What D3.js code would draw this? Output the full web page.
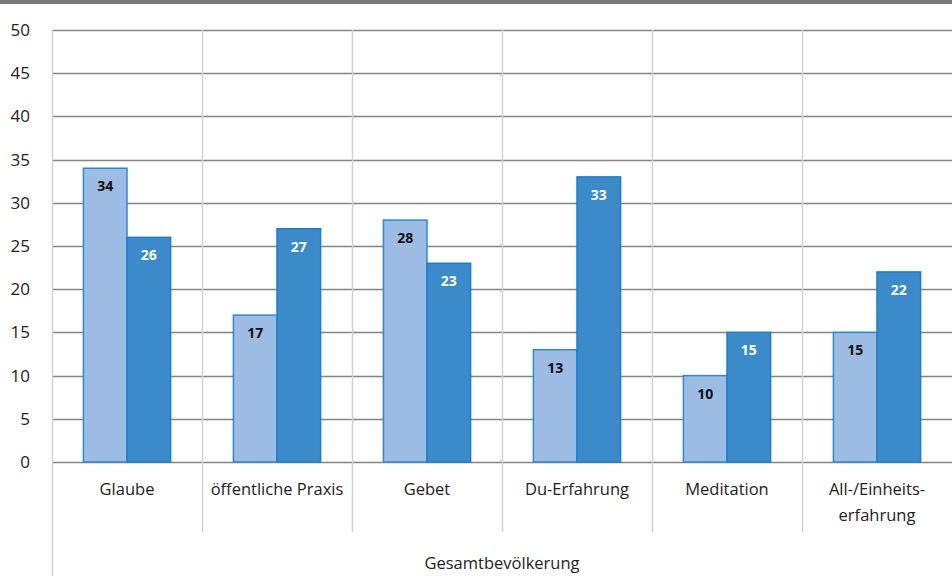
<!DOCTYPE html>
<html>
<head>
<meta charset="utf-8">
<script src="https://cdn.jsdelivr.net/npm/d3@7"></script>
<style>
  html, body { margin: 0; padding: 0; background: #fff; }
  svg { display: block; font-family: "Open Sans", "DejaVu Sans", sans-serif; }
</style>
</head>
<body>
<svg id="chart" width="952" height="582"></svg>
<script>
// Religious experience dimensions, two comparison groups
const categories = ["Glaube", "öffentliche Praxis", "Gebet", "Du-Erfahrung", "Meditation", "All-/Einheits-\nerfahrung"];
const seriesA = [34, 17, 28, 13, 10, 15];
const seriesB = [26, 27, 23, 33, 15, 22];
const yTicks = [0, 5, 10, 15, 20, 25, 30, 35, 40, 45, 50];
const groupLabel = "Gesamtbevölkerung";

const svg = d3.select("#chart");
const plotLeft = 52, plotRight = 952, plotTop = 30, plotBottom = 462;

const x = d3.scaleBand().domain(categories).range([plotLeft, plotRight]).paddingInner(0).paddingOuter(0);
const x1 = d3.scaleBand().domain(["a", "b"]).range([0, x.bandwidth()]).paddingInner(0).paddingOuter(0.72);
const y = d3.scaleLinear().domain([0, 50]).range([plotBottom, plotTop]);

// Top rule
svg.append("rect").attr("x", 0).attr("y", 0).attr("width", 952).attr("height", 4).attr("fill", "#7a7a7a");

// Horizontal gridlines
svg.append("g").selectAll("line").data(yTicks).join("line")
  .attr("x1", plotLeft).attr("x2", plotRight)
  .attr("y1", d => Math.round(y(d)) + 0.5).attr("y2", d => Math.round(y(d)) + 0.5)
  .attr("stroke", "#858585").attr("stroke-width", 1.3);

// Vertical category separators
const seps = categories.slice(1).map(c => x(c));
svg.append("g").selectAll("line").data(seps).join("line")
  .attr("x1", d => Math.round(d) + 0.5).attr("x2", d => Math.round(d) + 0.5)
  .attr("y1", plotTop).attr("y2", 532)
  .attr("stroke", "#d2d2d2").attr("stroke-width", 1.5);

// Left axis line
svg.append("line").attr("x1", plotLeft + 0.5).attr("x2", plotLeft + 0.5).attr("y1", plotTop).attr("y2", 576)
  .attr("stroke", "#d2d2d2").attr("stroke-width", 1.5);

// Y axis labels
const yAxis = d3.axisLeft(y).tickValues(yTicks).tickSize(0).tickPadding(0);
const yg = svg.append("g").attr("transform", `translate(30,0)`).call(yAxis);
yg.select(".domain").remove();
yg.selectAll("text").attr("font-size", 17).attr("fill", "#222").attr("text-anchor", "end")
  .attr("font-family", "'Open Sans', sans-serif").attr("dy", "0.32em");

// Bars
const data = categories.map((c, i) => ({ c, a: seriesA[i], b: seriesB[i] }));
const groups = svg.append("g").selectAll("g").data(data).join("g")
  .attr("transform", d => `translate(${x(d.c)},0)`);

const series = [
  { key: "a", fill: "#9dbce3", stroke: "#2b8ad2", text: "#111" },
  { key: "b", fill: "#3b8bcb", stroke: "#1c7fcc", text: "#fff" }
];
series.forEach(s => {
  groups.append("rect")
    .attr("x", x1(s.key)).attr("width", x1.bandwidth())
    .attr("y", d => y(d[s.key])).attr("height", d => y(0) - y(d[s.key]))
    .attr("fill", s.fill).attr("stroke", s.stroke).attr("stroke-width", 1.5);
  groups.append("text")
    .attr("x", x1(s.key) + x1.bandwidth() / 2)
    .attr("y", d => y(d[s.key]) + 23)
    .attr("text-anchor", "middle").attr("font-size", 14).attr("font-weight", "bold")
    .attr("fill", s.text)
    .text(d => d[s.key]);
});

// Category labels
const catG = svg.append("g");
categories.forEach(c => {
  const lines = c.split("\n");
  const t = catG.append("text")
    .attr("x", x(c) + x.bandwidth() / 2).attr("y", 495)
    .attr("text-anchor", "middle").attr("font-size", 16.5).attr("fill", "#222");
  lines.forEach((l, i) => t.append("tspan").attr("x", x(c) + x.bandwidth() / 2).attr("dy", i ? 26 : 0).text(l));
});

// Group label
svg.append("text").attr("x", (plotLeft + plotRight) / 2).attr("y", 569)
  .attr("text-anchor", "middle").attr("font-size", 16.5).attr("fill", "#222").text(groupLabel);
</script>
</body>
</html>
